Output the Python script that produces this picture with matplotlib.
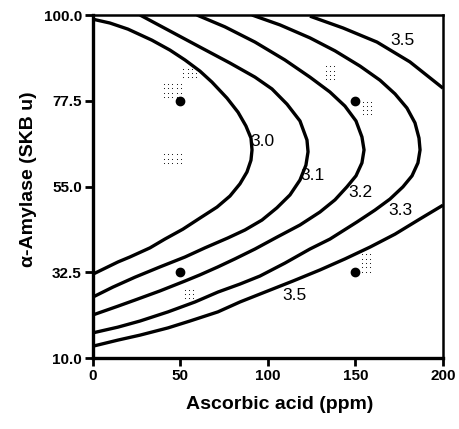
"""
 Contour plot of the response surface: ascorbic acid vs alpha-amylase
"""
import numpy as np
import matplotlib
matplotlib.use("Agg")
import matplotlib.pyplot as plt

plt.rcParams['font.family'] = ['Liberation Sans', 'DejaVu Sans']

# contour lines (x = ascorbic acid, y = alpha-amylase)
c30_x = [0, 9.7, 20.0, 33.7, 44.0, 52.6, 61.1, 68.0, 76.6, 82.9, 87.4, 90.3, 90.9,
         90.3, 88.0, 84.0, 78.3, 70.9, 61.1, 51.4, 41.1, 32.6, 21.1, 14.3, 0]
c30_y = [98.9, 97.9, 96.3, 93.4, 90.8, 88.2, 85.3, 82.4, 78.2, 74.5, 70.9, 67.7, 64.6,
         61.9, 58.8, 55.7, 52.5, 49.6, 46.7, 43.8, 41.2, 38.9, 36.5, 35.2, 32.0]

c31_x = [26.9, 44.0, 61.1, 78.3, 92.6, 102.3, 110.9, 118.3, 122.3, 122.9, 121.7, 118.3,
         112.6, 105.1, 96.6, 86.9, 77.1, 64.0, 52.6, 38.3, 24.0, 11.4, 0]
c31_y = [100, 95.8, 91.6, 87.4, 83.7, 80.6, 76.6, 72.2, 67.2, 64.1, 60.6, 56.7,
         52.8, 49.4, 46.2, 43.6, 41.5, 38.9, 36.5, 33.9, 31.2, 28.6, 26.0]

c32_x = [59.4, 75.4, 92.6, 109.7, 124.0, 135.4, 144.0, 150.3, 153.7, 154.9, 153.7, 150.3,
         145.1, 138.3, 129.7, 118.3, 105.1, 92.6, 81.1, 71.4, 61.1, 52.6, 38.3, 24.0, 14.3, 0]
c32_y = [100, 96.9, 92.9, 88.2, 83.7, 79.8, 76.1, 72.2, 68.0, 64.6, 61.2, 57.8,
         54.9, 51.5, 48.3, 44.9, 41.7, 38.6, 36.0, 33.9, 31.8, 30.2, 27.6, 25.2, 23.6, 21.3]

c33_x = [90.9, 106.9, 124.0, 138.3, 152.6, 164.0, 172.6, 179.4, 184.0, 186.3, 186.9, 185.7,
         182.3, 177.1, 169.7, 161.1, 150.9, 135.4, 124.0, 109.7, 95.4, 84.0, 71.4, 58.3,
         42.9, 26.9, 14.3, 0]
c33_y = [100, 97.4, 94.0, 90.6, 86.6, 82.9, 79.3, 75.6, 71.7, 67.7, 64.6, 61.2,
         57.8, 54.9, 51.7, 48.8, 45.7, 41.2, 38.6, 34.9, 31.5, 29.4, 27.3, 24.7,
         22.1, 19.7, 18.1, 16.6]

c35a_x = [124.0, 142.9, 162.3, 181.1, 200]
c35a_y = [99.7, 96.6, 92.9, 87.7, 80.8]
c35b_x = [200, 186.9, 172.6, 158.3, 144.0, 129.7, 114.3, 98.3, 84.0, 71.4, 55.4,
          42.9, 26.9, 14.3, 0]
c35b_y = [50.1, 46.5, 42.5, 39.1, 36.0, 33.1, 30.2, 27.3, 24.7, 22.1, 19.7,
          17.9, 16.0, 14.7, 13.1]

# design points
pts_x = [50, 150, 50, 150]
pts_y = [77.5, 77.5, 32.5, 32.5]

# contour labels
lab_text = ['3.0', '3.1', '3.2', '3.3', '3.5', '3.5']
lab_x = [96.6, 125.7, 152.6, 175.4, 177.1, 115.4]
lab_y = [66.7, 58.0, 53.3, 48.8, 93.4, 26.5]

# little dotted patches (scan speckle) : centre x, centre y, columns, rows
dot_x = [45.4, 55.4, 45.4, 135.4, 156.6, 54.9, 156.0]
dot_y = [80.2, 84.8, 62.3, 84.8, 75.6, 26.8, 34.9]
dot_nc = [5, 4, 5, 3, 3, 3, 3]
dot_nr = [4, 3, 3, 4, 4, 3, 5]

xticks = [0, 50, 100, 150, 200]
yticks = [10.0, 32.5, 55.0, 77.5, 100.0]

fig = plt.figure(figsize=(4.60, 4.29), dpi=100)
ax = fig.add_axes([0.202, 0.1655, 0.761, 0.7995])

curves = [(c30_x, c30_y), (c31_x, c31_y), (c32_x, c32_y), (c33_x, c33_y),
          (c35a_x, c35a_y), (c35b_x, c35b_y)]
for cx, cy in curves:
    ax.plot(cx, cy, color='black', lw=2.4, solid_capstyle='butt',
            solid_joinstyle='round')

ax.plot(pts_x, pts_y, 'o', color='black', ms=6)

for t, x, y in zip(lab_text, lab_x, lab_y):
    ax.text(x, y, t, fontsize=12.5, ha='center', va='center', color='black')

# dotted patches
for cx, cy, nc, nr in zip(dot_x, dot_y, dot_nc, dot_nr):
    gx = cx + (np.arange(nc) - (nc - 1) / 2) * 2.45
    gy = cy + (np.arange(nr) - (nr - 1) / 2) * 1.13
    xx, yy = np.meshgrid(gx, gy)
    ax.scatter(xx.ravel(), yy.ravel(), s=0.6, color='black', lw=0)

ax.set_xlim(0, 200)
ax.set_ylim(10, 100)
ax.set_xticks(xticks)
ax.set_xticklabels([str(v) for v in xticks])
ax.set_yticks(yticks)
ax.set_yticklabels(['%.1f' % v for v in yticks])
for lab in ax.get_xticklabels() + ax.get_yticklabels():
    lab.set_fontweight('bold')
    lab.set_fontsize(11)
ax.tick_params(direction='out', length=6, width=2, pad=2)

for side in ['left', 'bottom']:
    ax.spines[side].set_linewidth(2.4)
for side in ['top', 'right']:
    ax.spines[side].set_linewidth(1.8)

ax.set_xlabel('Ascorbic acid (ppm)', fontsize=14, fontweight='bold')
ax.xaxis.set_label_coords(0.534, -0.11)
ax.set_ylabel('\u03b1-Amylase (SKB u)', fontsize=14, fontweight='bold')
ax.yaxis.set_label_coords(-0.16, 0.522)

fig.savefig('out.png', dpi=100)
